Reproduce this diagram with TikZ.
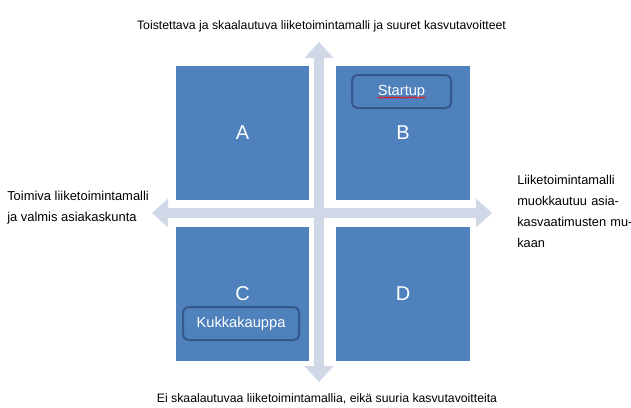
\documentclass[tikz,border=0pt]{standalone}
\usepackage{fontspec}
\setmainfont{Liberation Sans}
\usetikzlibrary{arrows.meta,decorations.pathmorphing,calc}
\definecolor{quadblue}{HTML}{4F81BD}
\definecolor{tagline}{HTML}{36578A}
\definecolor{axisgrey}{HTML}{D0D8E8}
\begin{document}
\begin{tikzpicture}[x=0.75pt,y=-0.75pt,
    quad/.style={fill=quadblue, minimum width=100pt, minimum height=100.5pt, inner sep=0pt, text=white, font=\fontsize{15}{18}\selectfont},
    tag/.style={draw=tagline, line width=1.5pt, rounded corners=4pt, fill=quadblue, minimum height=24.75pt, inner sep=0pt, text=white, font=\fontsize{11}{13}\selectfont},
    axis/.style={axisgrey, line width=8pt, {Triangle[length=12pt,width=21pt]}-{Triangle[length=12pt,width=21pt]}},
    note/.style={font=\fontsize{9.2}{15.75}\selectfont, inner sep=0pt},
    spell/.style={red, line width=0.5pt, decorate, decoration={snake, amplitude=0.5pt, segment length=2.5pt}}]
        \useasboundingbox (0,0) rectangle (631,407);
        \coordinate (N) at (319,42);
        \coordinate (S) at (319,382);
        \coordinate (W) at (152,213);
        \coordinate (E) at (492,213);
        
        \draw[axis] (S) -- (N);
        \draw[axis] (W) -- (E);
        
        \node[quad] (A) at (242.5,133) {A};
        \node[quad] (B) at (403,133) {B};
        \node[quad] (C) at (242.5,294) {C};
        \node[quad] (D) at (403,294) {D};
        
        \node[tag, minimum width=74.25pt] (startup) at (401.5,91.5) {Startup};
        \node[tag, minimum width=87pt] (kukka) at (241,323.5) {Kukkakauppa};
        \draw[spell] ($(startup.center)+(-24,6)$) -- ($(startup.center)+(24,6)$);
        
        \node[note, anchor=base] (top) at (321.5,29) {Toistettava ja skaalautuva liiketoimintamalli ja suuret kasvutavoitteet};
        \node[note, anchor=base] (bottom) at (327,402) {Ei skaalautuvaa liiketoimintamallia, eikä suuria kasvutavoitteita};
        \node[note, font=\fontsize{9.7}{15.75}\selectfont, anchor=north west, align=left] (left) at (7,191) {Toimiva liiketoimintamalli\\ja valmis asiakaskunta};
        \node[note, font=\fontsize{9.6}{15.75}\selectfont, anchor=north west, text width=83pt, align=left] (right) at (517,175) {Liiketoimintamalli\\\makebox[\linewidth][s]{muokkautuu asia-}\\\makebox[\linewidth][s]{kasvaatimusten mu-}\\kaan};
\end{tikzpicture}
\end{document}
